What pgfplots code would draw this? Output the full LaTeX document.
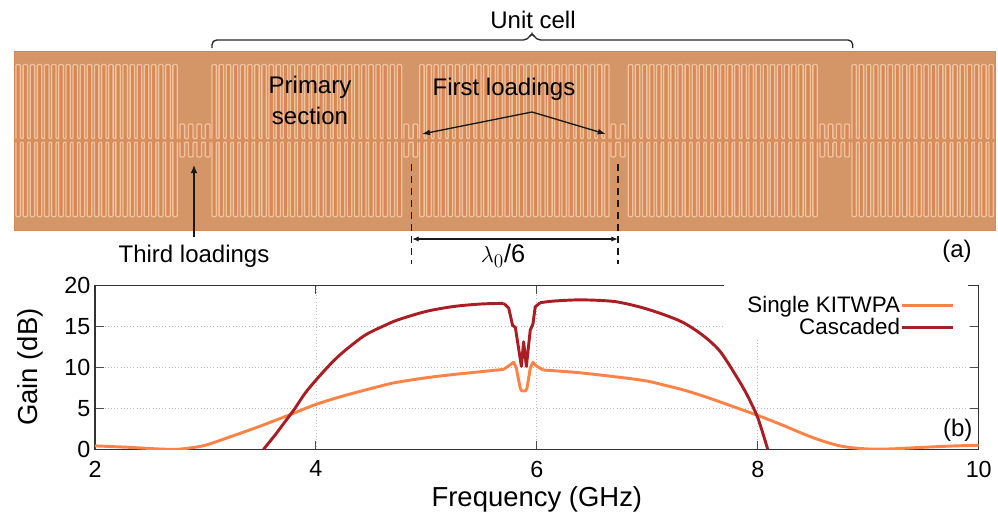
\documentclass[border=0pt]{standalone}
\usepackage{fontspec}
\usepackage{pgfplots}
\pgfplotsset{compat=1.18}
\usetikzlibrary{arrows.meta}
\setmainfont{Liberation Sans}

\definecolor{base}{RGB}{212,149,103}
\definecolor{dk}{RGB}{217,136,84}
\definecolor{lt}{RGB}{240,195,160}
\definecolor{single}{RGB}{255,130,70}
\definecolor{casc}{RGB}{170,30,35}

\newcommand{\fs}[1]{\fontsize{#1}{#1}\selectfont}

% one row of meander fingers: x0, x1, count, ybase, ytip, finger width
\newcommand{\meander}[6]{%
  \pgfmathsetmacro{\mp}{(#2-#1-#6)/(#3-1)}%
  \pgfmathtruncatemacro{\mn}{#3-1}%
  \foreach \i in {0,...,\mn}{%
    \pgfmathsetmacro{\ma}{#1+\i*\mp}%
    \pgfmathsetmacro{\mb}{\ma+#6}%
    \pgfmathsetmacro{\mc}{\ma+\mp}%
    \fill[dk] (\ma,#4) rectangle (\mb,#5);
    \ifnum\i=\mn
      \draw[lt,line width=1pt,rounded corners=.8] (\ma,#4)--(\ma,#5)--(\mb,#5)--(\mb,#4);
    \else
      \draw[lt,line width=1pt,rounded corners=.8] (\ma,#4)--(\ma,#5)--(\mb,#5)--(\mb,#4)--(\mc,#4);
    \fi
  }%
}

\begin{document}
\begin{tikzpicture}
\path[use as bounding box] (0,0) rectangle (748.5pt,-385.5pt);

\begin{scope}[x=.75pt,y=-.75pt]
\fill[base] (14,51) rectangle (995,230);
\draw[dk,line width=.6pt] (14,51) rectangle (995,230);
\fill[dk] (14,139.6) rectangle (995,141.4);

% upper half
\meander{16}{177.3}{23}{138.5}{64.5}{4.4}
\meander{180}{210}{4}{138.5}{124}{4.6}
\meander{212}{401.7}{27}{138.5}{64.5}{4.4}
\meander{404}{417.7}{2}{138.5}{124}{4.6}
\meander{419.7}{609}{27}{138.5}{64.5}{4.4}
\meander{611}{625}{2}{138.5}{124}{4.6}
\meander{628.3}{817.3}{27}{138.5}{64.5}{4.4}
\meander{820}{849.3}{4}{138.5}{124}{4.6}
\meander{852}{993.3}{20}{138.5}{64.5}{4.4}
% lower half
\meander{16}{177.3}{23}{142.3}{216.7}{4.4}
\meander{180}{210}{4}{142.3}{157}{4.6}
\meander{212}{401.7}{27}{142.3}{216.7}{4.4}
\meander{404}{417.7}{2}{142.3}{157}{4.6}
\meander{419.7}{609}{27}{142.3}{216.7}{4.4}
\meander{611}{625}{2}{142.3}{157}{4.6}
\meander{628.3}{817.3}{27}{142.3}{216.7}{4.4}
\meander{820}{849.3}{4}{142.3}{157}{4.6}
\meander{852}{993.3}{20}{142.3}{216.7}{4.4}

% brace over the unit cell
\draw[black!85,line width=1pt,rounded corners=3.5]
  (212,48)--(212,40)--(528,40)--(532,32)--(536,40)--(852.7,40)--(852.7,48);

% annotation arrows
\draw[-{Latex[length=6pt,width=5pt]},black!90,line width=1pt] (194,237)--(194,165);
\draw[-{Latex[length=6pt,width=4.5pt]},black!90,line width=1pt] (532,112)--(422,134);
\draw[-{Latex[length=6pt,width=4.5pt]},black!90,line width=1pt] (532,112)--(605.7,134);
\draw[black!90,line width=1pt,dash pattern=on 5pt off 4pt] (411.5,164)--(411.5,264);
\draw[black!90,line width=1pt,dash pattern=on 5pt off 4pt] (618,164)--(618,264);
\draw[{Latex[length=5pt,width=4pt]}-{Latex[length=5pt,width=4pt]},black!90,line width=1pt] (412,239)--(618,239);

\node[font=\fs{18}] at (533,20) {Unit cell};
\node[font=\fs{18}] at (310,87) {Primary};
\node[font=\fs{18}] at (310,116) {section};
\node[font=\fs{18}] at (504,89) {First loadings};
\node[font=\fs{18}] at (194,256) {Third loadings};
\node[font=\fs{19}] at (503,256) {$\lambda_0$/6};
\node[font=\fs{18}] at (957,251) {(a)};
\end{scope}

\begin{axis}[
    at={(71.25pt,-337pt)}, anchor=south west,
    scale only axis,
    width=662.8pt, height=123.2pt,
    xmin=2, xmax=10,
    ymin=0, ymax=20,
    xtick={2,4,6,8,10},
    ytick={0,5,10,15,20},
    ymajorgrids=true,
    xmajorgrids=true,
    grid style={dotted,black!25,line width=.6pt},
    tick align=inside,
    major tick length=6.5pt,
    tick style={black!70,line width=.7pt},
    axis line style={black!80,line width=.8pt},
    /pgf/number format/assume math mode=true,
    tick label style={font=\fs{17.5}},
    xticklabel style={yshift=-5pt},
    label style={font=\fs{20.6}},
    xlabel style={yshift=0pt},
    ylabel style={yshift=9pt},
    xlabel={Frequency (GHz)},
    ylabel={Gain (dB)},
    legend plot pos=right,
    legend cell align=right,
    legend image code/.code={\path (0pt,0pt) -- (8pt,0pt);\draw[#1] (8pt,0pt) -- (38pt,0pt);},
    legend style={at={(rel axis cs:0.973,0.937)},anchor=north east,draw=none,fill=none,
      font=\fs{16.8},inner sep=0pt,row sep=1.5pt,nodes={inner sep=.7pt}},
]
% legend backing hides the grid here
\fill[white] (axis cs:7.69,13.55) rectangle (axis cs:9.9,19.95);

\addplot[color=single,line width=2.2pt,line join=round,smooth,tension=.5] coordinates {
(2,0.42)(2.3,0.25)(2.6,0.03)(2.75,0)(2.83,0.12)(3,0.5)(3.25,1.65)(3.45,2.6)(3.6,3.36)(3.78,4.3)(4,5.47)
(4.26,6.55)(4.63,7.86)(4.75,8.2)(5,8.72)(5.25,9.12)(5.49,9.45)(5.7,9.74)
};
\addlegendentry{Single KITWPA}
\addplot[color=casc,line width=2.2pt,line join=round,smooth,tension=.5] coordinates {
(3.525,0)(3.63,1.74)(3.72,3.36)(3.81,4.99)(3.9,6.8)(4,8.43)(4.14,10.5)(4.26,12.0)(4.445,13.9)(4.63,15.13)
(4.75,15.8)(5,16.8)(5.25,17.4)(5.5,17.7)(5.7,17.77)
};
\addlegendentry{Cascaded}

\addplot[forget plot,color=single,line width=2.2pt,line join=round] coordinates {
(5.7,9.74)(5.79,10.6)(5.814,9.9)(5.85,7.4)(5.865,7.1)(5.895,7.1)(5.91,7.4)(5.94,9.86)(5.965,10.6)(6.0,10.1)(6.06,9.65)
};
\addplot[forget plot,color=single,line width=2.2pt,line join=round,smooth,tension=.5] coordinates {
(6.06,9.65)(6.39,9.32)(6.94,8.44)(7.15,7.83)(7.33,7.22)(7.54,6.33)(7.78,5.19)(7.99,4.18)(8.2,3.08)(8.5,1.42)
(8.75,0.4)(9,0.04)(9.2,0.05)(9.5,0.25)(9.75,0.4)(10,0.5)
};
\addplot[forget plot,color=casc,line width=2.2pt,line join=round] coordinates {
(5.7,17.77)(5.745,17.2)(5.78,15.1)(5.805,14.85)(5.86,10.1)(5.88,13.1)(5.905,10.1)(5.94,14.5)(5.965,15.3)(5.985,17.35)(6.03,17.85)
};
\addplot[forget plot,color=casc,line width=2.2pt,line join=round,smooth,tension=.5] coordinates {
(6.03,17.85)(6.15,18.05)(6.4,18.2)(6.7,18.0)(6.94,17.3)(7.15,16.4)(7.33,15.4)(7.51,13.8)(7.66,11.9)(7.81,8.8)(7.9,6.7)(7.99,4.18)(8.04,2.2)(8.09,0)
};
\node[font=\fs{18}] at (axis cs:9.81,2.3) {(b)};
\end{axis}
\end{tikzpicture}
\end{document}
